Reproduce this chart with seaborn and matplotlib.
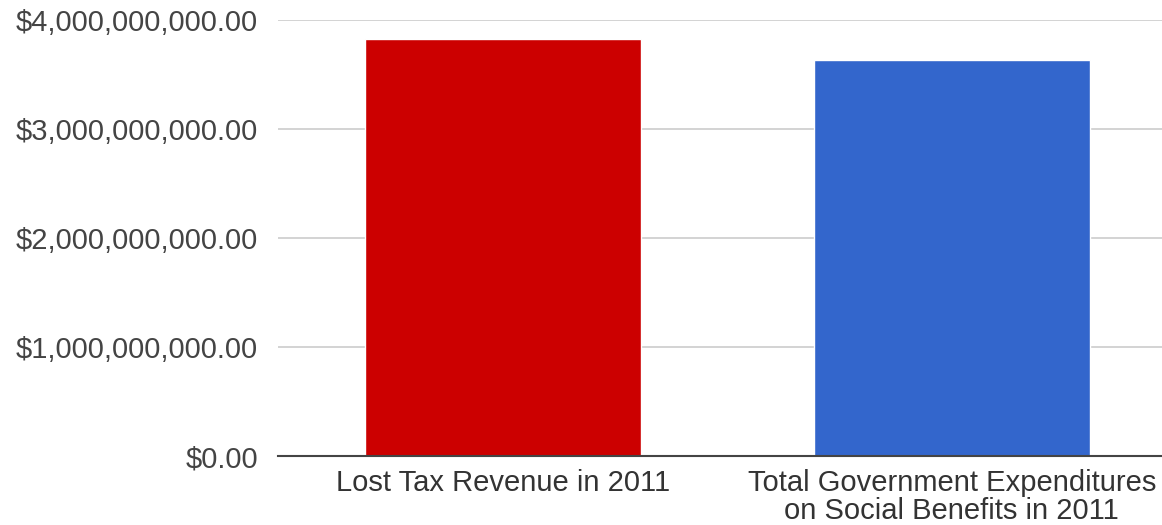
import matplotlib
matplotlib.use("Agg")
import matplotlib.pyplot as plt
import seaborn as sns
import pandas as pd
from matplotlib.ticker import FuncFormatter

categories = ["Lost Tax Revenue in 2011",
              "Total Government Expenditures\non Social Benefits in 2011"]
values = [3.826e9, 3.633e9]
colors = ["#CC0000", "#3366CC"]
yticks = [0, 1e9, 2e9, 3e9, 4e9]

sns.set_theme(style="white")
plt.rcParams['font.family'] = ['Liberation Sans', 'DejaVu Sans']

df = pd.DataFrame({"category": categories, "value": values})

fig = plt.figure(figsize=(11.62, 5.25), dpi=100)
ax = fig.add_axes([0.239, 0.131, 0.761, 0.831])
sns.barplot(data=df, x="category", y="value", hue="category",
            palette=colors, width=0.615, ax=ax, legend=False, saturation=1)

ax.set_ylim(0, 4e9)
ax.set_xlim(-0.501, 1.468)
ax.set_yticks(yticks)
ax.yaxis.set_major_formatter(FuncFormatter(lambda v, p: "${:,.2f}".format(v)))
ax.grid(axis="y", color="#d0d0d0", linewidth=1.3, zorder=0)
ax.set_axisbelow(True)
for s in ["top", "right", "left"]:
    ax.spines[s].set_visible(False)
ax.spines["bottom"].set_color("#444444")
ax.spines["bottom"].set_linewidth(1.5)
ax.tick_params(axis="y", length=0, pad=14, labelsize=21, labelcolor="#444444")
ax.tick_params(axis="x", length=0, pad=9, labelsize=21, labelcolor="#333333")
for lbl in ax.get_xticklabels():
    lbl.set_linespacing(1.0)
ax.set_xlabel("")
ax.set_ylabel("")

fig.savefig("out.png", dpi=100)
